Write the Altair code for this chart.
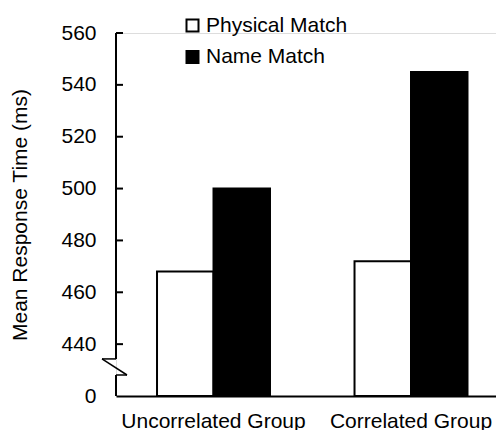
import altair as alt
import pandas as pd

groups = ["Uncorrelated Group", "Correlated Group"]
conditions = ["Physical Match", "Name Match"]
physical_ms = [468, 472]
name_ms = [500, 545]
tick_values = [420, 440, 460, 480, 500, 520, 540, 560]
axis_min, axis_max = 420, 560
break_hi, break_lo = 434.3, 428.1

rows = []
for g, p, n in zip(groups, physical_ms, name_ms):
    rows.append({"group": g, "condition": conditions[0], "ms": p})
    rows.append({"group": g, "condition": conditions[1], "ms": n})
df = pd.DataFrame(rows)
ticks_df = pd.DataFrame({"t": tick_values[1:]})

FONT = "Liberation Sans"
FS = 21
yscale = alt.Scale(domain=[axis_min, axis_max], zero=False, nice=False)

bars = alt.Chart(df).mark_bar(stroke="black", strokeWidth=2).encode(
    x=alt.X("group:N", sort=groups, title=None,
            scale=alt.Scale(paddingInner=0.428, paddingOuter=0.176, align=0.59),
            axis=alt.Axis(labelAngle=0, ticks=False, domain=True, domainColor="black",
                          domainWidth=2, labelFontSize=FS, labelFont=FONT,
                          labelColor="black", labelPadding=14, labelLimit=400)),
    xOffset=alt.XOffset("condition:N", sort=conditions,
                        scale=alt.Scale(paddingInner=0, paddingOuter=0)),
    y=alt.Y("ms:Q", scale=yscale, title="Mean Response Time (ms)",
            axis=alt.Axis(values=tick_values, ticks=False, domain=False, grid=False,
                          labelExpr="datum.value == 420 ? '0' : datum.label",
                          labelFontSize=FS, labelFont=FONT, labelColor="black",
                          labelPadding=20, titleFontSize=FS, titleFont=FONT,
                          titleFontWeight="normal", titleColor="black",
                          titlePadding=30)),
    y2=alt.datum(axis_min),
    color=alt.Color("condition:N", sort=conditions,
                    scale=alt.Scale(domain=conditions, range=["white", "black"]),
                    legend=alt.Legend(title=None, orient="none", legendX=66, legendY=-18,
                                      symbolType="square", symbolSize=144,
                                      symbolStrokeColor="black", symbolStrokeWidth=2,
                                      labelFontSize=FS, labelFont=FONT, labelColor="black",
                                      labelOffset=3, rowPadding=9.5, padding=0)),
)

rule_base = alt.Chart(pd.DataFrame({"a": [0]}))
upper_axis = rule_base.mark_rule(color="black", strokeWidth=2).encode(
    x=alt.value(0), y=alt.datum(axis_max, scale=yscale), y2=alt.datum(break_hi))
lower_axis = rule_base.mark_rule(color="black", strokeWidth=2).encode(
    x=alt.value(0), y=alt.datum(break_lo, scale=yscale), y2=alt.datum(axis_min))
brk1 = rule_base.mark_rule(color="black", strokeWidth=1.5).encode(
    x=alt.value(-14), x2=alt.value(0), y=alt.datum(break_hi, scale=yscale))
brk2 = rule_base.mark_rule(color="black", strokeWidth=1.5).encode(
    x=alt.value(-14), x2=alt.value(11), y=alt.datum(break_hi, scale=yscale),
    y2=alt.datum(break_lo))
brk3 = rule_base.mark_rule(color="black", strokeWidth=1.5).encode(
    x=alt.value(11), x2=alt.value(0), y=alt.datum(break_lo, scale=yscale))
yticks = alt.Chart(ticks_df).mark_rule(color="black", strokeWidth=2).encode(
    x=alt.value(0), x2=alt.value(7), y=alt.Y("t:Q", scale=yscale))

chart = alt.layer(bars, upper_axis, lower_axis, brk1, brk2, brk3, yticks).properties(
    width=380, height=363,
    autosize=alt.AutoSizeParams(type="none"),
    padding={"left": 108, "top": 25, "right": 0, "bottom": 34},
).configure_view(stroke=None).configure(background="white")

chart.save("out.html", embed_options={"renderer": "svg", "actions": False})
